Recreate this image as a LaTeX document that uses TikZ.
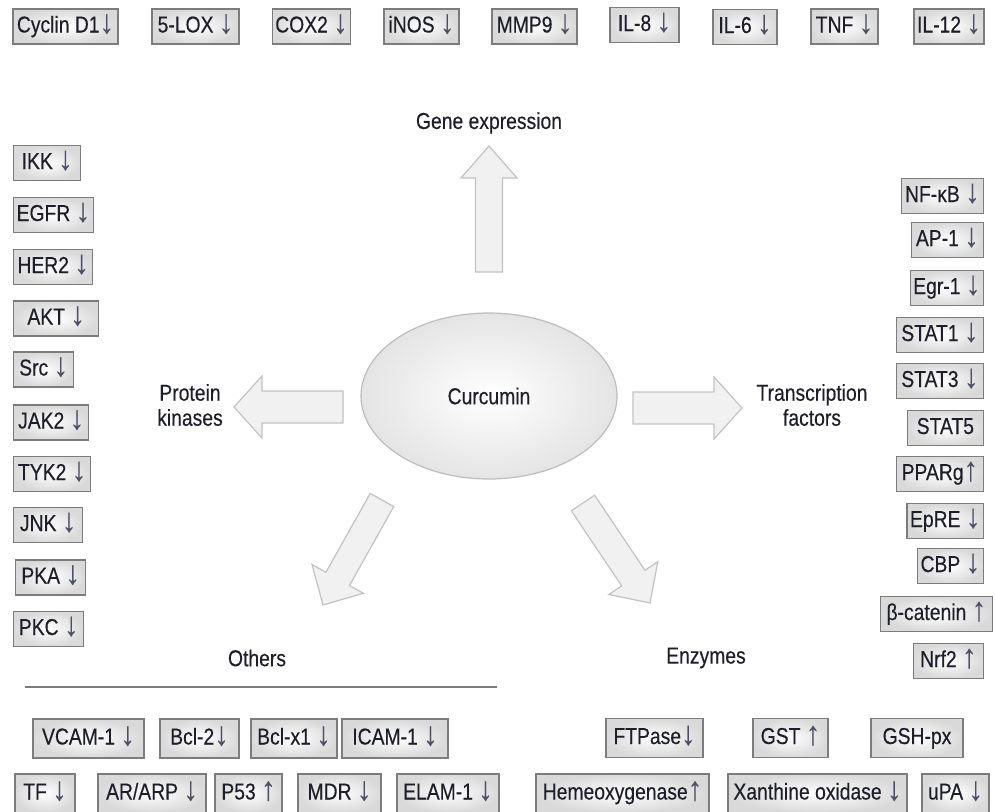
\documentclass[tikz,border=0pt]{standalone}
\usepackage{fontspec}
\setmainfont[FakeStretch=0.84,FakeBold=0.3]{Liberation Sans}
\usetikzlibrary{shapes.geometric,calc}

\definecolor{boxedge}{HTML}{7C7C7C}
\definecolor{boxshade}{HTML}{D9D9D9}
\definecolor{ovaledge}{HTML}{BDBDBD}
\definecolor{ovalshade}{HTML}{E4E4E4}
\definecolor{arrowfill}{HTML}{F1F1F1}
\definecolor{arrowedge}{HTML}{C2C2C2}
\definecolor{labeltext}{HTML}{1E1E2A}
\definecolor{markcol}{HTML}{4A5066}

% the up and down marks beside the names
\newcommand{\downmark}{\textcolor{markcol}{\raisebox{-0.5pt}{\scalebox{1.5}[1.45]{↓}}}}
\newcommand{\upmark}{\textcolor{markcol}{\raisebox{-0.5pt}{\scalebox{1.5}[1.45]{↑}}}}

\tikzset{
  genebox/.style={draw=boxedge, line width=1.3pt, inner color=white, outer color=boxshade,
    minimum height=35pt, inner xsep=3pt, inner ysep=0pt, text height=16pt, text depth=4pt, text=labeltext},
  lowbox/.style={genebox, minimum height=39pt},
  hub/.style={ellipse, draw=ovaledge, line width=1.2pt, inner color=white, outer color=ovalshade,
    minimum width=256pt, minimum height=166pt, text=labeltext},
  groupname/.style={text=labeltext, align=center},
  arrowbody/.style={draw=arrowedge, fill=arrowfill, line width=1.2pt, line join=miter},
  rule/.style={draw=boxedge, line width=1.5pt}
}

% block arrow: tail, tip, shaft half width, head half width, head length
\newcommand{\fatarrow}[5]{%
  \coordinate (neck) at ($(#2)!#5!(#1)$);
  \draw[arrowbody] ($(#1)!#3!90:(#2)$) -- ($(neck)!#3!-90:(#1)$) -- ($(neck)!#4!-90:(#1)$)
    -- (#2) -- ($(neck)!#4!90:(#1)$) -- ($(neck)!#3!90:(#1)$) -- ($(#1)!#3!-90:(#2)$) -- cycle;}

\begin{document}
\begin{tikzpicture}[x=1pt,y=-1pt,font=\fontsize{23}{25}\selectfont]
\useasboundingbox (0,0) rectangle (995,811);

% Curcumin
\node[hub] (curcumin) at (489,396) {Curcumin};

% Group names
\node[groupname] (gene) at (489,123) {Gene expression};
\node[groupname] (kinases) at (190,405) {Protein\\kinases};
\node[groupname] (tfactors) at (812,405) {Transcription\\factors};
\node[groupname] (others) at (257,658) {Others};
\node[groupname] (enzymes) at (706,658) {Enzymes};

% Block arrows out of the oval
\coordinate (geneTail) at (489,272);
\coordinate (geneTip) at (489,146);
\coordinate (kinTail) at (343,407);
\coordinate (kinTip) at (234,407);
\coordinate (tfTail) at (633,408);
\coordinate (tfTip) at (742,408);
\coordinate (othTail) at (382,500);
\coordinate (othTip) at (323,605);
\coordinate (enzTail) at (583,503);
\coordinate (enzTip) at (650,603);
\fatarrow{geneTail}{geneTip}{13.5pt}{28pt}{32pt}
\fatarrow{kinTail}{kinTip}{16pt}{31pt}{28pt}
\fatarrow{tfTail}{tfTip}{16pt}{31pt}{28pt}
\fatarrow{othTail}{othTip}{13.5pt}{29.5pt}{30pt}
\fatarrow{enzTail}{enzTip}{14pt}{29.5pt}{30pt}

% Gene expression targets
\node[genebox, minimum width=105pt] (cyclin) at (65.5,26.5) {Cyclin D1\downmark};
\node[genebox, minimum width=87pt] (lox) at (195.5,26.5) {5-LOX \downmark};
\node[genebox, minimum width=77pt] (cox) at (311.5,26.5) {COX2 \downmark};
\node[genebox, minimum width=75pt] (inos) at (421.5,26.5) {iNOS \downmark};
\node[genebox, minimum width=85pt] (mmp) at (534.5,26.5) {MMP9 \downmark};
\node[genebox, minimum width=69pt] (ileight) at (644.5,25) {IL-8 \downmark};
\node[genebox, minimum width=64pt] (ilsix) at (745,27) {IL-6 \downmark};
\node[genebox, minimum width=67pt] (tnf) at (844.5,26.5) {TNF \downmark};
\node[genebox, minimum width=70pt] (iltwelve) at (949,26.5) {IL-12 \downmark};

% Protein kinases
\node[genebox, anchor=west, minimum width=67pt] (ikk) at (13,163) {IKK \downmark};
\node[genebox, anchor=west, minimum width=79pt] (egfr) at (13,215) {EGFR \downmark};
\node[genebox, anchor=west, minimum width=79pt] (her) at (13,267) {HER2 \downmark};
\node[genebox, anchor=west, minimum width=85pt] (akt) at (13,318.5) {AKT \downmark};
\node[genebox, anchor=west, minimum width=60pt] (src) at (13,369.5) {Src \downmark};
\node[genebox, anchor=west, minimum width=75pt] (jak) at (13,422.5) {JAK2 \downmark};
\node[genebox, anchor=west, minimum width=77pt] (tyk) at (13,474) {TYK2 \downmark};
\node[genebox, anchor=west, minimum width=69pt] (jnk) at (13,525) {JNK \downmark};
\node[genebox, anchor=west, minimum width=70pt] (pka) at (15,577.5) {PKA \downmark};
\node[genebox, anchor=west, minimum width=70pt] (pkc) at (13,629) {PKC \downmark};

% Transcription factors
\node[genebox, anchor=east, minimum width=82pt] (nfkb) at (984,196) {NF-κB \downmark};
\node[genebox, anchor=east, minimum width=72pt] (apone) at (984,240) {AP-1 \downmark};
\node[genebox, anchor=east, minimum width=73pt] (egr) at (984,288) {Egr-1 \downmark};
\node[genebox, anchor=east, minimum width=87pt] (statone) at (984,335) {STAT1 \downmark};
\node[genebox, anchor=east, minimum width=87pt] (statthree) at (984,381) {STAT3 \downmark};
\node[genebox, anchor=east, minimum width=76pt] (statfive) at (984,428) {STAT5};
\node[genebox, anchor=east, minimum width=87pt] (pparg) at (984,474) {PPARg\upmark};
\node[genebox, anchor=east, minimum width=76pt] (epre) at (984,521) {EpRE \downmark};
\node[genebox, anchor=east, minimum width=66pt] (cbp) at (984,566) {CBP \downmark};
\node[genebox, anchor=east, minimum width=112pt] (catenin) at (993,614) {β-catenin \upmark};
\node[genebox, anchor=east, minimum width=70pt] (nrf) at (984,661) {Nrf2 \upmark};

% Others
\draw[rule] (25,687) -- (497,687);
\node[lowbox, minimum width=111pt] (vcam) at (88.5,738.5) {VCAM-1 \downmark};
\node[lowbox, minimum width=79pt] (bcltwo) at (199.5,738.5) {Bcl-2\downmark};
\node[lowbox, minimum width=86pt] (bclx) at (294,738.5) {Bcl-x1 \downmark};
\node[lowbox, minimum width=106pt] (icam) at (395,738.5) {ICAM-1 \downmark};
\node[lowbox, minimum width=60pt] (tf) at (45,793.5) {TF \downmark};
\node[lowbox, minimum width=108pt] (arp) at (152,793.5) {AR/ARP \downmark};
\node[lowbox, minimum width=67pt] (psft) at (248.5,793.5) {P53 \upmark};
\node[lowbox, minimum width=83pt] (mdr) at (339.5,793.5) {MDR \downmark};
\node[lowbox, minimum width=102pt] (elam) at (448,793.5) {ELAM-1 \downmark};

% Enzymes
\node[lowbox, minimum width=97pt] (ftpase) at (654.5,738) {FTPase\downmark};
\node[lowbox, minimum width=75pt] (gst) at (790.5,738) {GST \upmark};
\node[lowbox, minimum width=92pt] (gshpx) at (917,738) {GSH-px};
\node[lowbox, minimum width=173pt] (hemeox) at (622.5,793.5) {Hemeoxygenase\upmark};
\node[lowbox, minimum width=179pt] (xanth) at (817.5,793.5) {Xanthine oxidase \downmark};
\node[lowbox, minimum width=67pt] (upa) at (955.5,793.5) {uPA \downmark};

\end{tikzpicture}
\end{document}
